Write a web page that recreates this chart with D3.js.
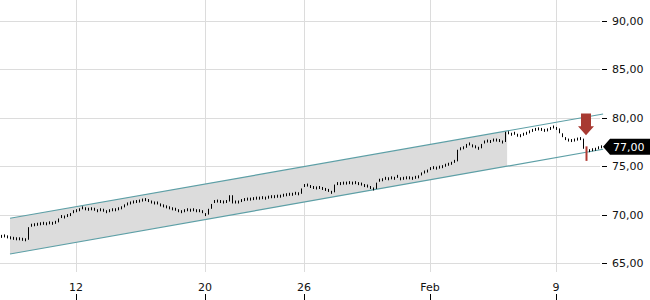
<!DOCTYPE html>
<html>
<head>
<meta charset="utf-8">
<script src="https://cdn.jsdelivr.net/npm/d3@7"></script>
<style>
  body { margin: 0; background: #fff; }
  svg { display: block; font-family: "DejaVu Sans", sans-serif; }
</style>
</head>
<body>
<svg id="chart" width="650" height="300"></svg>
<script>
// closing price of each bar
const closes = [
  67.75, 67.8, 67.7, 67.6, 67.55, 67.5, 67.5, 67.45, 67.4, 68.7,
  68.9, 68.95, 69.0, 69.05, 69.1, 69.05, 69.15, 69.1, 69.2, 69.6,
  69.8, 69.75, 69.9, 70.0, 70.3, 70.4, 70.5, 70.7, 70.6, 70.55,
  70.6, 70.55, 70.4, 70.5, 70.45, 70.3, 70.4, 70.5, 70.5, 70.6,
  70.7, 70.9, 71.1, 71.2, 71.3, 71.35, 71.4, 71.5, 71.55, 71.45,
  71.3, 71.2, 71.2, 71.0, 70.9, 70.8, 70.7, 70.6, 70.55, 70.4,
  70.3, 70.4, 70.5, 70.45, 70.5, 70.4, 70.4, 70.3, 70.0, 70.6,
  71.1, 71.35, 71.4, 71.35, 71.3, 71.35, 72.0, 71.15, 71.3, 71.3,
  71.45, 71.55, 71.6, 71.6, 71.65, 71.7, 71.7, 71.75, 71.7, 71.8,
  71.85, 71.85, 71.9, 71.9, 72.0, 72.05, 72.1, 72.1, 72.2, 72.15,
  72.7, 73.0, 73.05, 72.9, 72.8, 72.75, 72.8, 72.7, 72.6, 72.5,
  72.3, 73.1, 73.2, 73.2, 73.25, 73.25, 73.3, 73.25, 73.3, 73.2,
  73.15, 73.0, 72.95, 72.8, 72.65, 73.3, 73.55, 73.6, 73.75, 73.7,
  73.8, 73.75, 73.95, 73.7, 73.75, 73.8, 73.8, 73.75, 73.85, 73.9,
  74.2, 74.4, 74.5, 74.75, 74.85, 74.8, 74.9, 74.95, 75.1, 75.2,
  75.3, 75.5, 76.7, 76.8, 76.9, 77.3, 77.3, 77.1, 77.0, 76.85,
  77.3, 77.5, 77.6, 77.55, 77.7, 77.7, 77.65, 77.5, 78.55, 78.45,
  78.3, 78.4, 78.2, 78.15, 78.3, 78.4, 78.55, 78.7, 78.8, 78.85,
  78.8, 78.7, 78.75, 78.9, 79.05, 78.9, 78.4, 78.0, 77.85, 77.7,
  77.65, 77.7, 77.8, 77.85, 76.8, 76.3, 76.6, 76.7, 76.75, 76.9,
  77.0
];
// the red bar
const alertBar = 195;
const alertRange = [77.05, 75.55];

const yTicks = [65, 70, 75, 80, 85, 90];
const xTickBars = [25, 68, 101, 143, 185];
const xTickLabels = ["12", "20", "26", "Feb", "9"];

// trend channel: bar positions and prices of its two lines
const channelBars = [3, 200.7];
const channelUpper = [69.62, 80.39];
const channelLower = [65.93, 76.75];
const channelFillEnd = 168.7;

const lastPrice = 77.0;

const svg = d3.select("#chart");
const width = 650,
  height = 300,
  plotRight = 600,
  plotBottom = 272;

const x = d3.scaleLinear().domain([0, closes.length - 1]).range([1, 601]);
const y = d3.scaleLinear().domain([65, 90]).range([263, 21]);
const fmt = d3.formatLocale({ decimal: ",", thousands: ".", grouping: [3], currency: ["", ""] }).format(".2f");

// grid
svg.append("g")
  .selectAll("line")
  .data(yTicks)
  .join("line")
  .attr("x1", 0)
  .attr("x2", plotRight)
  .attr("y1", (d) => Math.round(y(d)) + 0.5)
  .attr("y2", (d) => Math.round(y(d)) + 0.5)
  .attr("stroke", "#dcdcdc");

svg.append("g")
  .selectAll("line")
  .data(xTickBars)
  .join("line")
  .attr("x1", (d) => Math.round(x(d)) + 0.5)
  .attr("x2", (d) => Math.round(x(d)) + 0.5)
  .attr("y1", 0)
  .attr("y2", plotBottom)
  .attr("stroke", "#dcdcdc");

// channel
const lerp = (a, b, t) => a + (b - a) * t;
const tEnd = (channelFillEnd - channelBars[0]) / (channelBars[1] - channelBars[0]);
const fillPts = [
  [x(channelBars[0]), y(channelUpper[0])],
  [x(channelFillEnd), y(lerp(channelUpper[0], channelUpper[1], tEnd))],
  [x(channelFillEnd), y(lerp(channelLower[0], channelLower[1], tEnd))],
  [x(channelBars[0]), y(channelLower[0])],
];
svg.append("path")
  .attr("d", d3.line()(fillPts) + "Z")
  .attr("fill", "#dcdcdc");

[channelUpper, channelLower].forEach((line) => {
  svg.append("line")
    .attr("x1", x(channelBars[0]))
    .attr("y1", y(line[0]))
    .attr("x2", x(channelBars[1]))
    .attr("y2", y(line[1]))
    .attr("stroke", "#5d9fa6")
    .attr("stroke-width", 1.2);
});

// bars
const bars = closes.map((c, i) => {
  const prev = i > 0 ? closes[i - 1] : c;
  let top = y(Math.max(prev, c)),
    bot = y(Math.min(prev, c));
  if (bot - top < 3) {
    const mid = y(c);
    top = mid - 1.5;
    bot = mid + 1.5;
  }
  return { i, top, bot };
});

svg.append("g")
  .selectAll("line")
  .data(bars.filter((d) => d.i !== alertBar))
  .join("line")
  .attr("x1", (d) => Math.round(x(d.i)) + 0.5)
  .attr("x2", (d) => Math.round(x(d.i)) + 0.5)
  .attr("y1", (d) => d.top)
  .attr("y2", (d) => d.bot)
  .attr("stroke", "#000")
  .attr("stroke-width", 1);

svg.append("line")
  .attr("x1", Math.round(x(alertBar)) + 0.5)
  .attr("x2", Math.round(x(alertBar)) + 0.5)
  .attr("y1", y(alertRange[0]))
  .attr("y2", y(alertRange[1]))
  .attr("stroke", "#b03a32")
  .attr("stroke-width", 2);

// alert arrow
const ax = x(alertBar),
  aTop = y(80.45),
  aTip = y(78.2);
svg.append("path")
  .attr("d", `M${ax - 5},${aTop} L${ax + 5},${aTop} L${ax + 5},${aTip - 9} L${ax + 8},${aTip - 9} L${ax},${aTip} L${ax - 8},${aTip - 9} L${ax - 5},${aTip - 9} Z`)
  .attr("fill", "#a83a32");

// y axis
const yAxis = svg.append("g");
yAxis.selectAll("line")
  .data(yTicks)
  .join("line")
  .attr("x1", 602)
  .attr("x2", 607)
  .attr("y1", (d) => Math.round(y(d)) + 0.5)
  .attr("y2", (d) => Math.round(y(d)) + 0.5)
  .attr("stroke", "#000");
yAxis.selectAll("text")
  .data(yTicks)
  .join("text")
  .attr("x", 612)
  .attr("y", (d) => y(d) + 4)
  .attr("font-size", 11)
  .attr("fill", "#111")
  .text(fmt);

// x axis
const xAxis = svg.append("g");
xAxis.selectAll("text")
  .data(xTickBars)
  .join("text")
  .attr("x", (d) => x(d))
  .attr("y", 291)
  .attr("text-anchor", "middle")
  .attr("font-size", 11)
  .attr("fill", "#111")
  .text((d, i) => xTickLabels[i]);
xAxis.selectAll("line")
  .data(xTickBars)
  .join("line")
  .attr("x1", (d) => Math.round(x(d)) + 0.5)
  .attr("x2", (d) => Math.round(x(d)) + 0.5)
  .attr("y1", 294)
  .attr("y2", 300)
  .attr("stroke", "#000");

// last price tag
const py = y(lastPrice);
svg.append("path")
  .attr("d", `M603,${py} L610,${py - 8} L${width},${py - 8} L${width},${py + 8} L610,${py + 8} Z`)
  .attr("fill", "#000");
svg.append("text")
  .attr("x", 613)
  .attr("y", py + 4)
  .attr("font-size", 11)
  .attr("fill", "#fff")
  .text(fmt(lastPrice));
</script>
</body>
</html>
